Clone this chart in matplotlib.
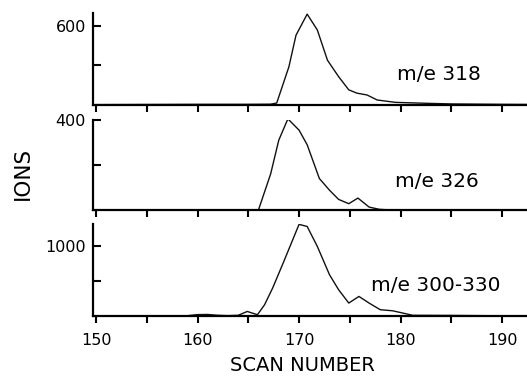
import matplotlib
matplotlib.use('Agg')
import matplotlib.pyplot as plt

# 数据：三个质量通道的离子流随扫描号变化
scan_318 = [150, 155, 160, 165, 167.2, 167.8, 169.0, 169.7, 170.8, 171.8, 172.8, 173.9,
            174.9, 175.7, 176.7, 177.7, 179.5, 182.5, 185, 190, 193]
ions_318 = [3, 4, 5, 5, 6, 15, 290, 530, 690, 570, 340, 215,
            115, 90, 76, 38, 20, 13, 8, 5, 4]

scan_326 = [150, 166.0, 167.2, 168.0, 168.9, 170.0, 170.8, 172.0, 173.0, 173.9,
            174.9, 175.8, 176.9, 177.9, 179, 193]
ions_326 = [0, 0, 160, 310, 405, 355, 290, 140, 88, 47,
            28, 53, 13, 3, 0, 0]

scan_tot = [150, 155, 159, 160, 161, 162, 163, 164, 164.9, 165.9, 166.6, 167.4, 168.5,
            170.0, 170.8, 171.8, 173.0, 173.9, 174.9, 175.9, 176.9, 178.0, 179.2,
            180.2, 181.2, 185, 190, 193]
ions_tot = [3, 3, 4, 20, 22, 10, 5, 10, 65, 18, 160, 400, 780,
            1310, 1280, 995, 590, 375, 185, 280, 185, 90, 75,
            43, 10, 8, 3, 3]

labels = ['m/e 318', 'm/e 326', 'm/e 300-330']
y_ticks = [[300, 600], [200, 400], [500, 1000]]
y_ticklabels = [['', '600'], ['', '400'], ['', '1000']]
y_tops = [700, 400, 1315]

plt.rcParams['font.family'] = ['DejaVu Sans']

fig = plt.figure(figsize=(5.27, 3.77), dpi=100)

# 面板位置（左，下，宽，高）
boxes = [[0.1765, 0.7215, 0.8235, 0.2445],
         [0.1765, 0.4430, 0.8235, 0.2387],
         [0.1765, 0.1618, 0.8235, 0.2440]]
text_pos = [(179.7, 190), (179.5, 102), (177.1, 357)]

series = [(scan_318, ions_318), (scan_326, ions_326), (scan_tot, ions_tot)]

for i, (xs, ys) in enumerate(series):
    ax = fig.add_axes(boxes[i])
    ax.plot(xs, ys, color='#111111', lw=1.0, clip_on=True)
    ax.set_xlim(149.7, 192.46)
    ax.set_ylim(0, y_tops[i])
    for s in ['top', 'right']:
        ax.spines[s].set_visible(False)
    for s in ['left', 'bottom']:
        ax.spines[s].set_linewidth(1.6)
    ax.set_yticks(y_ticks[i], y_ticklabels[i])
    ax.tick_params(axis='y', direction='in', length=6, width=1.5, pad=5, labelsize=11.5)
    ax.set_xticks([150, 160, 170, 180, 190])
    ax.set_xticks([155, 165, 175, 185], minor=True)
    ax.tick_params(axis='x', which='both', direction='out', length=5, width=1.5,
                   pad=7, labelsize=11.5)
    if i < 2:
        ax.tick_params(axis='x', labelbottom=False)
    ax.text(text_pos[i][0], text_pos[i][1], labels[i], fontsize=14.5,
            ha='left', va='baseline', clip_on=False)

fig.text(0.0436, 0.541, 'IONS', rotation=90, fontsize=15.5, ha='center', va='center')
fig.text(0.574, 0.0305, 'SCAN NUMBER', fontsize=14, ha='center', va='center')

fig.savefig('out.png', dpi=100)
